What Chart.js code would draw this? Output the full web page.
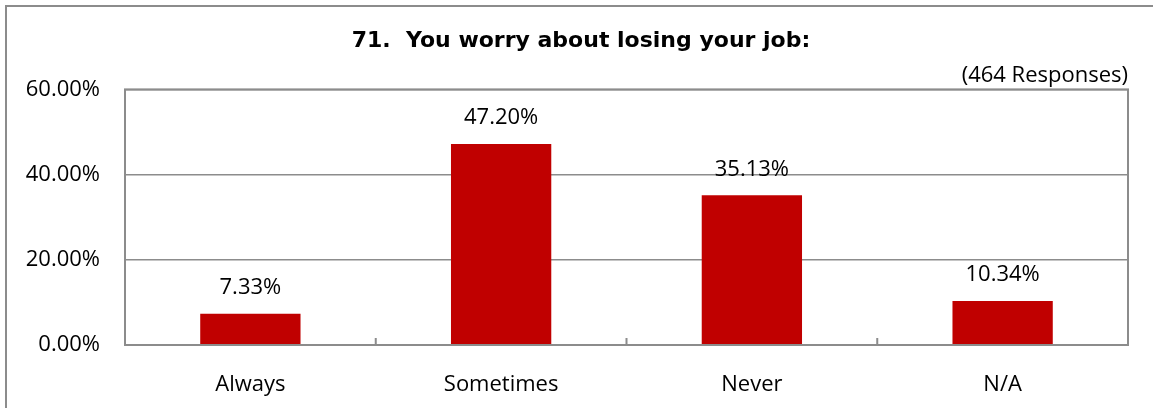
<!DOCTYPE html>
<html>
<head>
<meta charset="utf-8">
<script src="https://cdn.jsdelivr.net/npm/chart.js@4/dist/chart.umd.min.js"></script>
<style>
  html, body { margin: 0; padding: 0; background: #fff; overflow: hidden; }
  #frame {
    position: absolute; left: 5px; top: 5px; width: 1200px; height: 500px;
    border: 2px solid #8c8c8c; box-sizing: border-box;
  }
  #wrap { position: absolute; left: 0; top: 0; width: 1153px; height: 408px; }
</style>
</head>
<body>
<div id="frame"></div>
<div id="wrap"><canvas id="chart"></canvas></div>
<script>
const categories = ['Always', 'Sometimes', 'Never', 'N/A'];
const percentValues = [7.33, 47.20, 35.13, 10.34];
const yTickValues = [0, 20, 40, 60];
const chartTitle = '71.  You worry about losing your job:';
const responseNote = '(464 Responses)';

const gray = '#8c8c8c';
const labelFont = { family: "'Open Sans', sans-serif", size: 22 };

// value labels above each bar
const barLabels = {
    id: 'barLabels',
    afterDatasetsDraw(chart) {
        const ctx = chart.ctx;
        const meta = chart.getDatasetMeta(0);
        ctx.save();
        ctx.font = "22px 'Open Sans', sans-serif";
        ctx.fillStyle = '#000';
        ctx.textAlign = 'center';
        ctx.textBaseline = 'middle';
        meta.data.forEach((bar, i) => {
            ctx.fillText(percentValues[i].toFixed(2) + '%', bar.x, bar.y - 26);
        });
        ctx.restore();
    }
};

// box around plot area, small inward ticks between categories, title
const plotFrame = {
    id: 'plotFrame',
    afterDraw(chart) {
        const { ctx, chartArea: a, scales: { x } } = chart;
        ctx.save();
        ctx.strokeStyle = gray;
        ctx.lineWidth = 2;
        ctx.strokeRect(a.left, a.top, a.right - a.left, a.bottom - a.top);
        ctx.beginPath();
        for (let i = 0; i < categories.length - 1; i++) {
            const bx = (x.getPixelForValue(i) + x.getPixelForValue(i + 1)) / 2;
            ctx.moveTo(bx, a.bottom);
            ctx.lineTo(bx, a.bottom - 7);
        }
        ctx.stroke();

        // title sits a bit right of the canvas centre in the original
        ctx.font = "bold 22px 'DejaVu Sans', sans-serif";
        ctx.fillStyle = '#000';
        ctx.textAlign = 'center';
        ctx.textBaseline = 'middle';
        ctx.fillText(chartTitle, 581, 41);
        ctx.restore();
    }
};

new Chart(document.getElementById('chart'), {
    type: 'bar',
    data: {
        labels: categories,
        datasets: [{
            data: percentValues,
            backgroundColor: '#c00000',
            borderWidth: 0,
            categoryPercentage: 1,
            barPercentage: 0.4
        }]
    },
    options: {
        responsive: true,
        maintainAspectRatio: false,
        animation: false,
        layout: { padding: { top: 0, right: 25, bottom: 0, left: 0 } },
        plugins: {
            legend: { display: false },
            tooltip: { enabled: false },
            title: { display: false },
            subtitle: {
                display: true,
                text: responseNote,
                align: 'end',
                color: '#000',
                font: { family: "'Open Sans', sans-serif", size: 22 },
                padding: { top: 63, bottom: 0 }
            }
        },
        scales: {
            x: {
                grid: { display: false },
                border: { display: false },
                ticks: { color: '#000', font: labelFont, padding: 19, maxRotation: 0 },
                afterFit(scale) { scale.height = 63; }
            },
            y: {
                min: 0,
                max: 60,
                afterBuildTicks(scale) {
                    scale.ticks = yTickValues.map(v => ({ value: v }));
                },
                grid: { color: gray, lineWidth: 1.5, drawTicks: false },
                border: { display: false },
                ticks: {
                    color: '#000',
                    font: labelFont,
                    padding: 25,
                    callback: v => v.toFixed(2) + '%'
                },
                afterFit(scale) { scale.width = 125; }
            }
        }
    },
    plugins: [barLabels, plotFrame]
});
</script>
</body>
</html>
